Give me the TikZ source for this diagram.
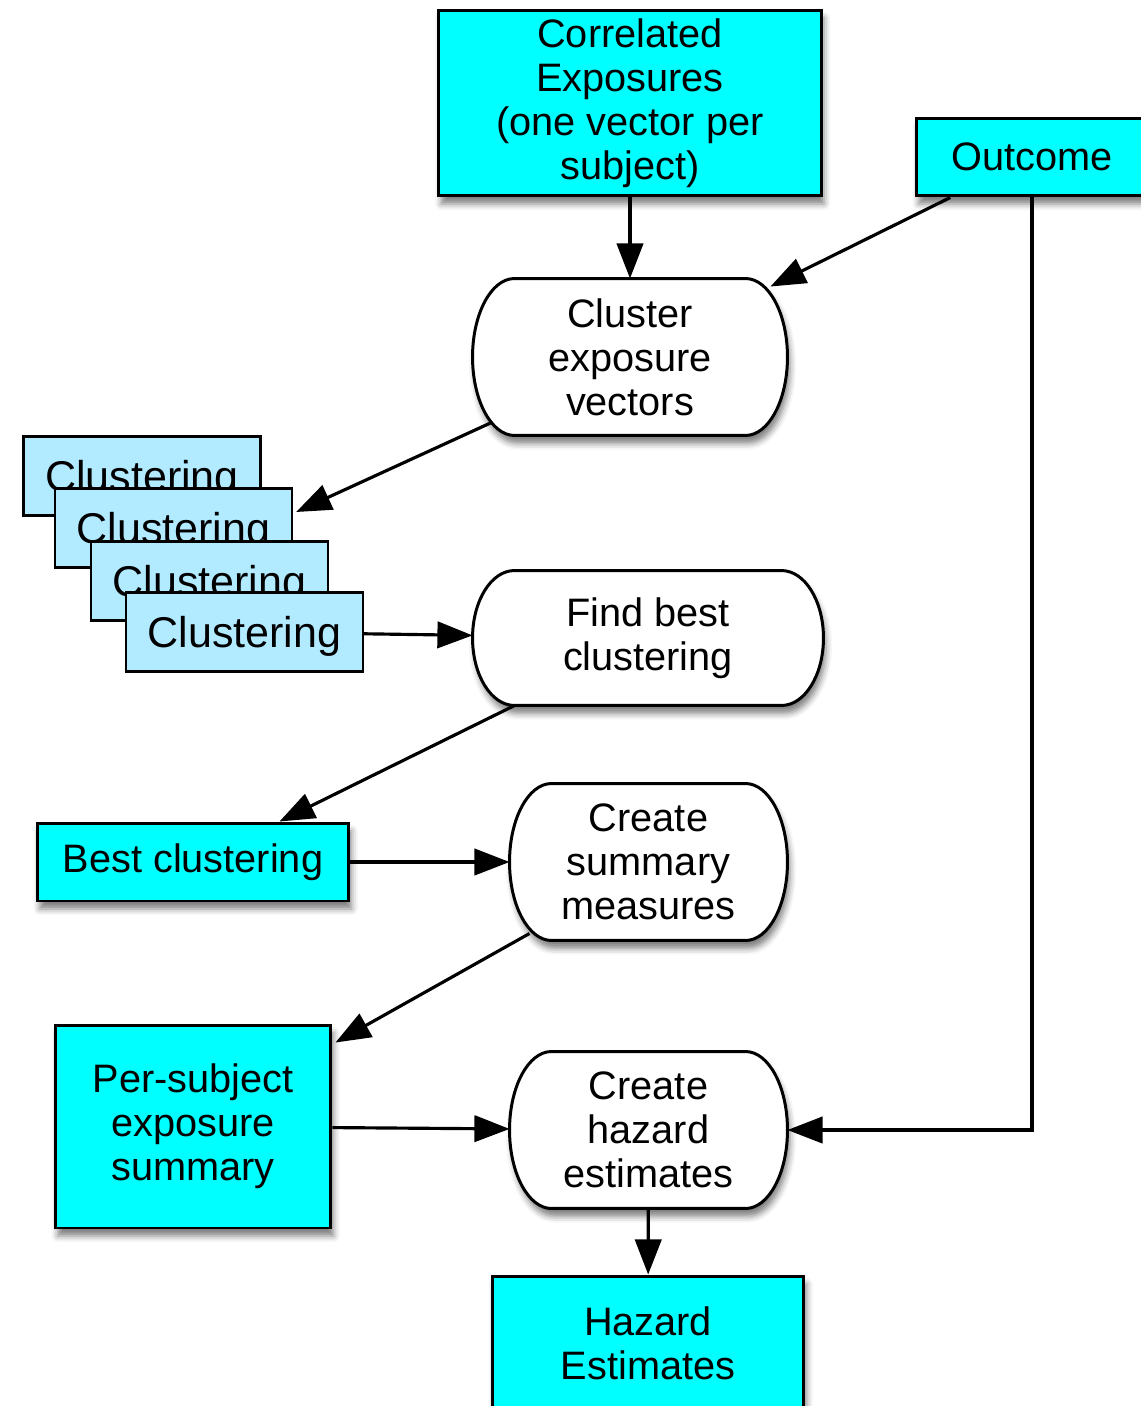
\documentclass[tikz,border=0pt]{standalone}
\usepackage{fontspec}
\setmainfont{Liberation Sans}
\usepackage{tikz}
\usetikzlibrary{arrows.meta, calc, shadows.blur}

\definecolor{databg}{RGB}{0,255,255}
\definecolor{clustblue}{RGB}{178,235,255}

%% rectangle with elliptical ends for the processing steps
\makeatletter
\newdimen\pillxa \newdimen\pillya
\newdimen\pillxb \newdimen\pillyb
\newdimen\pillrx \newdimen\pillry
\pgfkeys{/pgf/pill radius/.initial=0.84cm}
\pgfdeclareshape{pill}{%
  \inheritsavedanchors[from=rectangle]%
  \inheritanchorborder[from=rectangle]%
  \inheritanchor[from=rectangle]{center}%
  \inheritanchor[from=rectangle]{north}%
  \inheritanchor[from=rectangle]{south}%
  \inheritanchor[from=rectangle]{east}%
  \inheritanchor[from=rectangle]{west}%
  \inheritanchor[from=rectangle]{north east}%
  \inheritanchor[from=rectangle]{north west}%
  \inheritanchor[from=rectangle]{south east}%
  \inheritanchor[from=rectangle]{south west}%
  \inheritanchor[from=rectangle]{text}%
  \inheritanchor[from=rectangle]{base}%
  \inheritanchor[from=rectangle]{mid}%
  \backgroundpath{%
    \pgfmathsetlength\pillrx{\pgfkeysvalueof{/pgf/pill radius}}%
    \southwest \pillxa=\pgf@x \pillya=\pgf@y
    \northeast \pillxb=\pgf@x \pillyb=\pgf@y
    \pillry=\pillyb \advance\pillry by -\pillya \pillry=.5\pillry
    \pgfpathmoveto{\pgfpoint{\pillxb-\pillrx}{\pillyb}}%
    \pgfpathlineto{\pgfpoint{\pillxa+\pillrx}{\pillyb}}%
    \pgfpatharc{90}{270}{\the\pillrx\space and \the\pillry}%
    \pgfpathlineto{\pgfpoint{\pillxb-\pillrx}{\pillya}}%
    \pgfpatharc{270}{450}{\the\pillrx\space and \the\pillry}%
    \pgfpathclose
  }%
}
\makeatother

\begin{document}
\begin{tikzpicture}[x=0.02cm, y=-0.02cm,
  databox/.style={rectangle, draw, line width=1.7pt, fill=databg, align=center,
                  inner sep=0pt, font=\fontsize{22.6}{25}\selectfont,
                  blur shadow={shadow xshift=1.5pt, shadow yshift=-4.5pt,
                               shadow blur radius=3.5pt, shadow opacity=50}},
  stepbox/.style={pill, draw, line width=1.7pt, fill=white, align=center,
                  inner sep=0pt, font=\fontsize{22.6}{25}\selectfont,
                  blur shadow={shadow xshift=1.5pt, shadow yshift=-4.5pt,
                               shadow blur radius=3.5pt, shadow opacity=50}},
  clustbox/.style={rectangle, draw, line width=1.3pt, fill=clustblue, inner sep=0pt,
                   minimum width=4.74cm, minimum height=1.58cm, text depth=0pt,
                   font=\fontsize{24.5}{28}\selectfont},
  arrow/.style={-{Triangle[length=20pt, width=15pt]}, line width=1.8pt}
]
\clip (0,0) rectangle (1141,1406);

%% Inputs
\node[databox, minimum width=7.66cm, minimum height=3.72cm] at (630,103) (corr)
  {Correlated\\Exposures\\(one vector per\\subject)};
\node[databox, minimum width=4.64cm, minimum height=1.56cm] at (1032,157) (outcome) {Outcome};

%% Clustering step and its results
\node[stepbox, minimum width=6.24cm, minimum height=3.08cm] at (630,357) (cluster)
  {Cluster\\exposure\\vectors};
\node[clustbox] at (142,476)   (clust1) {Clustering};
\node[clustbox] at (173.5,528) (clust2) {Clustering};
\node[clustbox] at (209.5,581) (clust3) {Clustering};
\node[clustbox] at (244.5,632) (clust4) {Clustering};
\node[stepbox, minimum width=6.96cm, minimum height=2.64cm] at (648,638) (findbest)
  {Find best\\clustering};
\node[databox, minimum width=6.24cm, minimum height=1.56cm] at (193,862) (bestclust)
  {Best clustering};

%% Summary and hazards
\node[stepbox, minimum width=5.5cm, minimum height=3.08cm] at (648.5,862) (summary)
  {Create\\summary\\measures};
\node[databox, minimum width=5.52cm, minimum height=4.06cm] at (193,1126.5) (persubj)
  {Per-subject\\exposure\\summary};
\node[stepbox, minimum width=5.5cm, minimum height=3.08cm] at (648.5,1130) (hazardcalc)
  {Create\\hazard\\estimates};
\node[databox, minimum width=6.24cm, minimum height=2.68cm] at (648,1343) (hazard)
  {Hazard\\Estimates};

%% Arrows
\draw[arrow] (corr) -- (cluster);
\draw[arrow] (outcome) -- ($(cluster.north east)+(-17,8)$);
\draw[arrow] (outcome.south) |- (hazardcalc.east);
\draw[arrow] ($(cluster.south west)+(19,-13)$) -- ($(clust2.east)+(3,-16)$);
\draw[arrow] (clust4) -- (findbest);
\draw[arrow] ($(findbest.south west)+(42,0)$) -- ($(bestclust.north east)+(-71,0)$);
\draw[arrow] (bestclust) -- (summary);
\draw[arrow] ($(summary.south west)+(20,-7)$) -- ($(persubj.north east)+(3,19)$);
\draw[arrow] (persubj) -- (hazardcalc);
\draw[arrow] (hazardcalc) -- (hazard);
\end{tikzpicture}
\end{document}
